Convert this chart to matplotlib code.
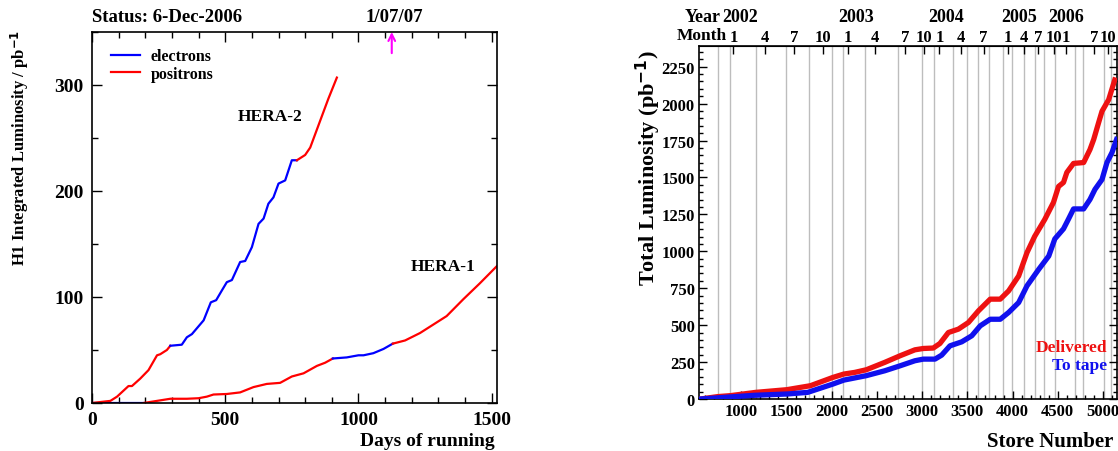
import matplotlib
matplotlib.use("Agg")
import matplotlib.pyplot as plt
import matplotlib.transforms as mtrans
from matplotlib.ticker import MultipleLocator

plt.rcParams['font.family'] = ['Liberation Serif', 'DejaVu Serif']
plt.rcParams['font.weight'] = 'bold'
plt.rcParams['mathtext.fontset'] = 'custom'
plt.rcParams['mathtext.rm'] = 'Liberation Serif:bold'
plt.rcParams['mathtext.default'] = 'rm'

# ---------------- Left panel data (H1 integrated luminosity) ----------------
hera2_pos1_days = [0, 69, 94, 137, 150, 181, 212, 244, 256, 281, 294]
hera2_pos1_lumi = [0, 2, 6, 16, 16, 23, 31, 45, 46, 50, 54]
hera2_ele_days = [294, 337, 356, 375, 419, 446, 466, 487, 506, 525, 556, 575,
                  600, 625, 644, 662, 681, 700, 725, 750, 769]
hera2_ele_lumi = [54, 55, 62, 65, 78, 95, 97, 106, 114, 116, 133, 134,
                  147, 169, 174, 188, 194, 207, 210, 229, 229]
hera2_pos2_days = [769, 800, 819, 850, 887, 919]
hera2_pos2_lumi = [229, 234, 241, 262, 287, 307]

hera1_ele1_days = [0, 194]
hera1_ele1_lumi = [0, 0]
hera1_pos1_days = [194, 244, 294, 356, 400, 431, 456, 506, 556, 606, 656, 706,
                   750, 794, 844, 875, 904]
hera1_pos1_lumi = [0, 2, 4, 4, 4.5, 6, 8, 8.5, 10, 15, 18, 19, 25, 28, 35, 38, 42]
hera1_ele2_days = [904, 956, 1000, 1019, 1056, 1094, 1129]
hera1_ele2_lumi = [42, 43, 45, 45, 47, 51, 56]
hera1_pos2_days = [1129, 1175, 1231, 1281, 1331, 1394, 1456, 1519]
hera1_pos2_lumi = [56, 59, 66, 74, 82, 98, 113, 129]

status_text = "Status: 6-Dec-2006"
marker_text = "1/07/07"
marker_day = 1125

# ---------------- Right panel data (Tevatron luminosity) ----------------
delivered_store = [548, 733, 881, 1159, 1500, 1763, 2011, 2133, 2252, 2381, 2585,
                   2756, 2919, 3011, 3122, 3196, 3289, 3400, 3511, 3622, 3752,
                   3863, 3956, 4067, 4159, 4244, 4356, 4452, 4508, 4563, 4600,
                   4674, 4786, 4856, 4897, 4952, 4989, 5063, 5130]
delivered_lumi = [0, 16, 23, 45, 63, 90, 146, 169, 180, 198, 248,
                  293, 333, 342, 345, 376, 450, 473, 518, 597, 676,
                  676, 732, 833, 991, 1101, 1216, 1331, 1439, 1466, 1534,
                  1595, 1601, 1689, 1757, 1872, 1948, 2027, 2160]
tape_store = [548, 1141, 1511, 1733, 2011, 2133, 2381, 2585, 2756, 2919, 3011,
              3141, 3215, 3307, 3437, 3548, 3641, 3752, 3863, 3956, 4067, 4159,
              4289, 4400, 4467, 4563, 4619, 4674, 4786, 4856, 4911, 4989, 5044,
              5100, 5150]
tape_lumi = [0, 25, 34, 45, 101, 128, 158, 191, 225, 259, 270,
             270, 297, 360, 387, 428, 495, 540, 540, 586, 653, 766,
             878, 968, 1084, 1152, 1219, 1287, 1287, 1351, 1419, 1486, 1601,
             1669, 1757]

grid_stores = [737, 870, 1156, 1497, 1748, 1997, 2119, 2367, 2737, 2997, 3130,
               3341, 3500, 3619, 3741, 3889, 3997, 4126, 4248, 4348, 4470, 4692,
               4774, 5008, 5092]
month_stores = [911, 1256, 1578, 1900, 2178, 2478, 2811, 3022, 3189, 3433, 3678,
                3944, 4122, 4278, 4456, 4589, 4900, 5056]
month_labels = ["1", "4", "7", "10", "1", "4", "7", "10", "1", "4", "7",
                "1", "4", "7", "10", "1", "7", "10"]
year_stores = [989, 2267, 3267, 4067, 4589]
year_labels = ["2002", "2003", "2004", "2005", "2006"]

W, H = 1118, 452
fig = plt.figure(figsize=(W / 100, H / 100), dpi=100)

def fx(px):
    return px / W

def fy(py):
    return 1 - py / H

# ---------------- Left panel ----------------
axL = fig.add_axes([fx(92), fy(404), fx(497 - 92), (404 - 33) / H])
blue, red = '#0000ff', '#ff0000'
lw = 1.6
axL.plot(hera1_ele1_days, hera1_ele1_lumi, color=blue, lw=lw, label='electrons')
axL.plot(hera1_pos1_days, hera1_pos1_lumi, color=red, lw=lw, label='positrons')
axL.plot(hera1_ele2_days, hera1_ele2_lumi, color=blue, lw=lw)
axL.plot(hera1_pos2_days, hera1_pos2_lumi, color=red, lw=lw)
axL.plot(hera2_pos1_days, hera2_pos1_lumi, color=red, lw=lw)
axL.plot(hera2_ele_days, hera2_ele_lumi, color=blue, lw=lw)
axL.plot(hera2_pos2_days, hera2_pos2_lumi, color=red, lw=lw)

axL.set_xlim(0, 1520)
axL.set_ylim(0, 350)
axL.xaxis.set_major_locator(MultipleLocator(500))
axL.xaxis.set_minor_locator(MultipleLocator(100))
axL.yaxis.set_major_locator(MultipleLocator(100))
axL.yaxis.set_minor_locator(MultipleLocator(50))
axL.tick_params(which='both', direction='in', top=True, right=True, width=1)
axL.tick_params(which='major', length=7, labelsize=14, pad=6)
axL.tick_params(which='minor', length=4)
for s in axL.spines.values():
    s.set_linewidth(1.2)
for lab in axL.get_xticklabels() + axL.get_yticklabels():
    lab.set_fontweight('bold')

leg = axL.legend(loc='upper left', bbox_to_anchor=(0.012, 0.995), frameon=False,
                 handlelength=1.8, handletextpad=0.65, labelspacing=0.1,
                 prop={'size': 11.5, 'weight': 'bold'})
axL.text(667, 271, "HERA-2", fontsize=12.5, fontweight='bold', ha='center', va='center')
axL.text(1317, 129, "HERA-1", fontsize=12.5, fontweight='bold', ha='center', va='center')

fig.text(fx(92), fy(17), status_text, fontsize=13.5, fontweight='bold', ha='left', va='center')
fig.text(fx(394), fy(17), marker_text, fontsize=13.5, fontweight='bold', ha='center', va='center')
axL.annotate('', xy=(marker_day, 1.0), xycoords=('data', 'axes fraction'),
             xytext=(marker_day, 0.943), textcoords=('data', 'axes fraction'),
             arrowprops=dict(arrowstyle='->', color='#ff00ff', lw=1.5,
                             shrinkA=0, shrinkB=0, mutation_scale=12),
             annotation_clip=False)
fig.text(fx(495), fy(442), "Days of running", fontsize=14, fontweight='bold',
         ha='right', va='center')
fig.text(fx(20), fy(148), r"H1 Integrated Luminosity / pb$^{\mathbf{-1}}$", fontsize=12,
         fontweight='bold', rotation=90, ha='center', va='center')

# ---------------- Right panel ----------------
axR = fig.add_axes([fx(699), fy(400), fx(1117 - 699), (400 - 47) / H])
for g in grid_stores:
    axR.axvline(g, color='#bdbdbd', lw=1.0, zorder=0)
axR.plot(delivered_store, delivered_lumi, color='#ee1111', lw=3.8, zorder=3,
         solid_joinstyle='round')
axR.plot(tape_store, tape_lumi, color='#1010ee', lw=3.8, zorder=3,
         solid_joinstyle='round')
axR.set_xlim(530, 5155)
axR.set_ylim(0, 2390)
axR.xaxis.set_minor_locator(MultipleLocator(100))
axR.yaxis.set_major_locator(MultipleLocator(250))
axR.yaxis.set_minor_locator(MultipleLocator(50))
axR.set_xticks([1000, 1500, 2000, 2500, 3000, 3500, 4000, 4500, 5000])
axR.tick_params(which='both', direction='in', right=True, width=1)
axR.tick_params(which='major', length=6, labelsize=12, pad=3)
axR.tick_params(which='minor', length=3)
for lab in axR.get_xticklabels() + axR.get_yticklabels():
    lab.set_fontweight('bold')
for s in axR.spines.values():
    s.set_linewidth(1.2)

sec = axR.secondary_xaxis('top')
sec.set_xticks(month_stores, labels=month_labels)
sec.tick_params(direction='in', length=6, width=1, labelsize=12, pad=1)
for lab in sec.get_xticklabels():
    lab.set_fontweight('bold')
blend = mtrans.blended_transform_factory(axR.transData, fig.transFigure)
for ys, yl in zip(year_stores, year_labels):
    axR.text(ys, fy(18), yl, transform=blend, fontsize=13, fontweight='bold',
             ha='center', va='center')
fig.text(fx(721), fy(18), "Year", fontsize=13, fontweight='bold', ha='right', va='center')
fig.text(fx(727), fy(36), "Month", fontsize=12.5, fontweight='bold', ha='right', va='center')

axR.text(5044, 351, "Delivered", color='#ee1111', fontsize=12.5, fontweight='bold',
         ha='right', va='center')
axR.text(5044, 230, "To tape", color='#1010ee', fontsize=12.5, fontweight='bold',
         ha='right', va='center')

fig.text(fx(1113), fy(442), "Store Number", fontsize=15, fontweight='bold',
         ha='right', va='center')
fig.text(fx(648), fy(168), r"Total Luminosity (pb$^{\mathbf{-1}}$)", fontsize=16,
         fontweight='bold', rotation=90, ha='center', va='center')

fig.savefig("out.png", dpi=100)
